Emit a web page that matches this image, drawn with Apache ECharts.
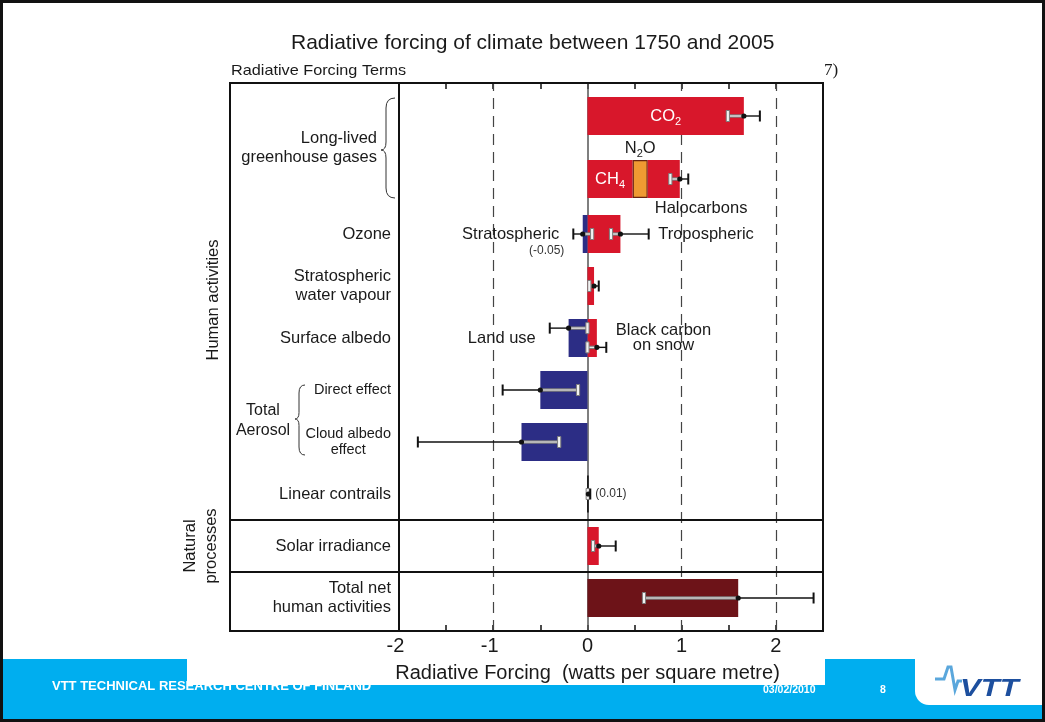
<!DOCTYPE html>
<html>
<head>
<meta charset="utf-8">
<script src="https://cdn.jsdelivr.net/npm/echarts@6/dist/echarts.min.js"></script>
<style>
  html, body { margin: 0; padding: 0; background: #fff; }
  #c { width: 1045px; height: 722px; }
</style>
</head>
<body>
<div id="c"></div>
<script>
// Radiative forcing of climate between 1750 and 2005 (W m-2)
const terms = ['CO2', 'CH4 + N2O + Halocarbons', 'Ozone', 'Stratospheric\nwater vapour', 'Surface albedo',
  'Direct effect', 'Cloud albedo\neffect', 'Linear contrails', 'Solar irradiance', 'Total net\nhuman activities'];
const ghgParts = ['CH4', 'N2O', 'Halocarbons'];

// stacked bar components, one value per row
const warming     = [1.66, 0.48, 0.35, 0.07, 0.10, null, null, 0.01, 0.12, null];
const n2o         = [null, 0.16, null, null, null, null, null, null, null, null];
const halocarbons = [null, 0.34, null, null, null, null, null, null, null, null];
const cooling     = [null, null, -0.05, null, -0.20, -0.50, -0.70, null, null, null];
const totalNet    = [null, null, null, null, null, null, null, null, null, 1.60];

// uncertainty ranges
const errNames = ['CO2', 'CH4 + N2O + Halocarbons', 'Stratospheric ozone', 'Tropospheric ozone',
  'Stratospheric water vapour', 'Land use', 'Black carbon on snow', 'Direct effect',
  'Cloud albedo effect', 'Linear contrails', 'Solar irradiance', 'Total net human activities'];
const errRow  = [0, 1, 2, 2, 3, 4, 4, 5, 6, 7, 8, 9];
const errBest = [1.66, 0.98, -0.05, 0.35, 0.07, -0.20, 0.10, -0.50, -0.70, 0.01, 0.12, 1.60];
const errLow  = [1.49, 0.88, -0.15, 0.25, 0.02, -0.40, 0.00, -0.90, -1.80, 0.003, 0.06, 0.60];
const errHigh = [1.83, 1.07, 0.05, 0.65, 0.12, 0.00, 0.20, -0.10, -0.30, 0.03, 0.30, 2.40];

const xTickLabels = [-2, -1, 0, 1, 2];
const xMin = -2, xMax = 2.5;

// ---- styling and layout ----
const FONT = '"Liberation Sans", Arial, Helvetica, sans-serif';
const INK = '#1a1a1a';
const RED = '#d8172b', BLUE = '#2c2d85', ORANGE = '#ef9a32', MAROON = '#6d1318';
const PLOT_LEFT = 399, PLOT_WIDTH = 424;
const FRAME = { x: 230, y: 83, w: 593, h: 548 };
const GHG = { top: 84.5, row: 63 };   // long-lived greenhouse gas block
const REST = { top: 208, row: 52 };   // all other forcing terms
const SPLIT = 2;                      // rows in the greenhouse gas block
const BAR_W = 38;

const sideNotes = {
  'Stratospheric ozone': 'Stratospheric',
  'Tropospheric ozone': 'Tropospheric',
  'Land use': 'Land use',
  'Black carbon on snow': 'Black carbon\non snow'
};
const valueNotes = { 'Stratospheric ozone': 'below', 'Linear contrails': 'beside' };
const laneShift = { 'Land use': -0.19, 'Black carbon on snow': 0.18 };

const measure = document.createElement('canvas').getContext('2d');
function textWidth(s, size) {
  measure.font = size + 'px ' + FONT;
  return Math.max.apply(null, s.split('\n').map(l => measure.measureText(l).width));
}
function chem(s, big, small) {
  return s.replace(/([A-Za-z]+)|(\d+)/g, (m, a, d) => a ? '{' + big + '|' + a + '}' : '{' + small + '|' + d + '}');
}
function fmtValue(v) { return '(' + v.toFixed(2) + ')'; }

function renderError(params, api) {
  const row = api.value(0), lo = api.value(1), best = api.value(2), hi = api.value(3);
  const name = errNames[api.value(4)];
  const band = api.size([0, 1])[1];
  const c = api.coord([best, row]);
  const y = c[1] + (laneShift[name] || 0) * band;
  const xb = c[0], xl = api.coord([lo, row])[0], xh = api.coord([hi, row])[0];
  const up = best >= 0;
  const inA = up ? xl : xb, inB = up ? xb : xh;
  const outA = up ? xb : xl, outB = up ? xh : xb;
  const capIn = up ? xl : xh, capOut = up ? xh : xl;
  const cap = 5.5;
  const kids = [
    { type: 'line', shape: { x1: inA, y1: y, x2: inB, y2: y }, style: { stroke: '#7c7c7c', lineWidth: 3.4 } },
    { type: 'line', shape: { x1: inA, y1: y, x2: inB, y2: y }, style: { stroke: '#f2f2f2', lineWidth: 1.2 } },
    { type: 'rect', shape: { x: capIn - 1.6, y: y - cap, width: 3.2, height: cap * 2 },
      style: { fill: '#f2f2f2', stroke: '#7c7c7c', lineWidth: 1 } },
    { type: 'line', shape: { x1: outA, y1: y, x2: outB, y2: y }, style: { stroke: '#111', lineWidth: 1.4 } },
    { type: 'line', shape: { x1: capOut, y1: y - cap, x2: capOut, y2: y + cap }, style: { stroke: '#111', lineWidth: 2 } },
    { type: 'circle', shape: { cx: xb, cy: y, r: 2.6 }, style: { fill: '#111' } }
  ];
  const note = sideNotes[name];
  if (note) {
    const w = textWidth(note, 16.5);
    const x = up ? xh + 9.5 + w / 2 : xl - 14 - w / 2;
    kids.push({ type: 'text', x: x, y: c[1],
      style: { text: note, fill: INK, font: '16.5px ' + FONT, lineHeight: 15,
        align: 'center', textAlign: 'center', verticalAlign: 'middle', textVerticalAlign: 'middle' } });
  }
  const vn = valueNotes[name];
  if (vn) {
    const below = vn === 'below';
    kids.push({ type: 'text', x: below ? xl - 9 : xh + 5, y: c[1] + (below ? 17 : 0),
      style: { text: fmtValue(best), fill: '#333', font: '12px ' + FONT,
        align: below ? 'right' : 'left', textAlign: below ? 'right' : 'left',
        verticalAlign: 'middle', textVerticalAlign: 'middle' } });
  }
  return { type: 'group', children: kids };
}

function errData(from, to) {
  return errRow.map((r, i) => [r, i]).filter(d => d[0] >= from && d[0] < to)
    .map(d => [d[0] - from, errLow[d[1]], errBest[d[1]], errHigh[d[1]], d[1]]);
}
function barData(arr, from, to) {
  return arr.slice(from, to).map(v => (v !== null && Math.abs(v) < 0.02)
    ? { value: v, itemStyle: { borderColor: '#111', borderWidth: 1.6 } } : v);
}

const richSub = {
  w: { color: '#fff', fontSize: 16.5, fontFamily: FONT, lineHeight: 22 },
  ws: { color: '#fff', fontSize: 11, fontFamily: FONT, lineHeight: 11, verticalAlign: 'bottom' },
  k: { color: INK, fontSize: 16.5, fontFamily: FONT, lineHeight: 22 },
  ks: { color: INK, fontSize: 11, fontFamily: FONT, lineHeight: 11, verticalAlign: 'bottom' }
};

const smallTerms = new Set(['Direct effect', 'Cloud albedo\neffect']);

const hiddenX = idx => ({ gridIndex: idx, type: 'value', min: xMin, max: xMax, show: false });

const option = {
  animation: false,
  backgroundColor: '#fff',
  textStyle: { fontFamily: FONT },
  title: {
    text: 'Radiative forcing of climate between 1750 and 2005',
    left: 291, top: 33, padding: 0,
    textStyle: { fontSize: 21, fontWeight: 'normal', color: INK, fontFamily: FONT }
  },
  grid: [
    { left: PLOT_LEFT, width: PLOT_WIDTH, top: GHG.top, height: GHG.row * SPLIT, outerBoundsMode: 'none' },
    { left: PLOT_LEFT, width: PLOT_WIDTH, top: REST.top, height: REST.row * (terms.length - SPLIT), outerBoundsMode: 'none' },
    { left: PLOT_LEFT, width: PLOT_WIDTH, top: FRAME.y, height: FRAME.h, outerBoundsMode: 'none' }
  ],
  xAxis: [
    hiddenX(0),
    hiddenX(1),
    {
      gridIndex: 2, type: 'value', min: xMin, max: xMax, interval: 0.5, position: 'bottom',
      axisLine: { show: true, onZero: false, lineStyle: { color: '#111', width: 2 } },
      axisTick: { show: true, inside: true, length: 6, lineStyle: { color: '#111', width: 1.5 } },
      splitLine: { show: false },
      axisLabel: {
        margin: 5, color: INK, fontSize: 20,
        formatter: v => xTickLabels.includes(v) ? (v < 0 ? '{n|' + v + '}{p|}' : '{n|' + v + '}') : '',
        rich: { n: { fontSize: 20, color: INK, fontFamily: FONT }, p: { width: 7 } }
      }
    },
    {
      gridIndex: 2, type: 'value', min: xMin, max: xMax, interval: 0.5, position: 'top',
      axisLine: { show: true, onZero: false, lineStyle: { color: '#111', width: 2 } },
      axisTick: { show: true, inside: true, length: 6, lineStyle: { color: '#111', width: 1.5 } },
      splitLine: { show: false },
      axisLabel: { show: false }
    }
  ],
  yAxis: [
    { gridIndex: 0, type: 'category', inverse: true, data: terms.slice(0, SPLIT),
      axisLine: { show: false }, axisTick: { show: false }, axisLabel: { show: false } },
    { gridIndex: 1, type: 'category', inverse: true, data: terms.slice(SPLIT),
      axisLine: { show: false }, axisTick: { show: false }, splitLine: { show: false },
      axisLabel: {
        interval: 0, margin: 8, color: INK, fontSize: 16.5, lineHeight: 19, fontFamily: FONT,
        formatter: v => smallTerms.has(v)
          ? v.split('\n').map((l, i) => '{' + (i ? 'sc' : 'sm') + '|' + l + '}').join('\n') : v,
        rich: {
          sm: { fontSize: 14.5, lineHeight: 16, color: INK, fontFamily: FONT },
          sc: { fontSize: 14.5, lineHeight: 16, color: INK, fontFamily: FONT, align: 'center' }
        }
      } },
    { gridIndex: 2, type: 'value', min: 0, max: 1, show: false }
  ],
  series: [
    {
      // reference lines of the value axis, kept behind the bars
      type: 'line', xAxisIndex: 2, yAxisIndex: 2, data: [], silent: true, z: 1,
      markLine: {
        z: 1, symbol: 'none', silent: true, label: { show: false },
        data: [
          { xAxis: -1, lineStyle: { color: '#444', width: 1.2, type: [11, 7] } },
          { xAxis: 1, lineStyle: { color: '#444', width: 1.2, type: [11, 7] } },
          { xAxis: 2, lineStyle: { color: '#444', width: 1.2, type: [11, 7] } },
          { xAxis: -2, lineStyle: { color: '#111', width: 2, type: 'solid' } },
          { xAxis: 0, lineStyle: { color: '#555', width: 1.5, type: 'solid' } }
        ]
      }
    },
    // long-lived greenhouse gases
    {
      type: 'bar', name: 'CO2 / CH4', xAxisIndex: 0, yAxisIndex: 0, stack: 'ghg', barWidth: BAR_W, z: 3,
      data: barData(warming, 0, SPLIT), itemStyle: { color: RED },
      label: { show: true, position: 'inside', rich: richSub,
        formatter: p => chem(p.dataIndex === 0 ? terms[0] : ghgParts[0], 'w', 'ws') }
    },
    {
      type: 'bar', name: 'N2O', xAxisIndex: 0, yAxisIndex: 0, stack: 'ghg', barWidth: BAR_W, z: 3,
      data: barData(n2o, 0, SPLIT), itemStyle: { color: ORANGE, borderColor: '#6a2410', borderWidth: 1.2 },
      label: { show: true, position: 'top', distance: 1, rich: richSub, formatter: () => chem(ghgParts[1], 'k', 'ks') }
    },
    {
      type: 'bar', name: 'Halocarbons', xAxisIndex: 0, yAxisIndex: 0, stack: 'ghg', barWidth: BAR_W, z: 3,
      data: barData(halocarbons, 0, SPLIT), itemStyle: { color: RED },
      label: { show: true, position: ['0%', '100%'], offset: [7, 2], align: 'left', verticalAlign: 'top',
        color: INK, fontSize: 16.5, fontFamily: FONT, formatter: () => ghgParts[2] }
    },
    // other forcing terms
    {
      type: 'bar', name: 'Warming', xAxisIndex: 1, yAxisIndex: 1, stack: 'rest', barWidth: BAR_W, z: 3,
      data: barData(warming, SPLIT), itemStyle: { color: RED }
    },
    {
      type: 'bar', name: 'Cooling', xAxisIndex: 1, yAxisIndex: 1, stack: 'rest', barWidth: BAR_W, z: 3,
      data: barData(cooling, SPLIT), itemStyle: { color: BLUE }
    },
    {
      type: 'bar', name: 'Total net', xAxisIndex: 1, yAxisIndex: 1, stack: 'rest', barWidth: BAR_W, z: 3,
      data: barData(totalNet, SPLIT), itemStyle: { color: MAROON }
    },
    // uncertainty bars
    {
      type: 'custom', xAxisIndex: 0, yAxisIndex: 0, silent: true, z: 5,
      encode: { x: [1, 2, 3], y: 0 }, data: errData(0, SPLIT), renderItem: renderError
    },
    {
      type: 'custom', xAxisIndex: 1, yAxisIndex: 1, silent: true, z: 5,
      encode: { x: [1, 2, 3], y: 0 }, data: errData(SPLIT, terms.length), renderItem: renderError
    }
  ],
  graphic: { elements: [] }
};

// ---- frame, group labels, braces and slide footer ----
const sepY1 = REST.top + REST.row * 6, sepY2 = REST.top + REST.row * 7;

function txt(x, y, text, size, opts) {
  opts = opts || {};
  const style = Object.assign({ text: text, fill: INK, font: size + 'px ' + FONT,
    align: 'left', textAlign: 'left', verticalAlign: 'middle', textVerticalAlign: 'middle' }, opts.style || {});
  const el = { type: 'text', x: x, y: y, z: 6, style: style };
  ['z', 'rotation', 'scaleX'].forEach(k => { if (opts[k] !== undefined) el[k] = opts[k]; });
  return el;
}
function alignStyle(a) { return { align: a, textAlign: a }; }

// curly brace opening to the right: ends at xEnd, spine at xSpine, tip at xTip
function brace(xEnd, xSpine, xTip, yTop, yMid, yBot, r) {
  const st = { fill: 'none', stroke: '#333', lineWidth: 1 };
  const q = (x1, y1, cx, cy, x2, y2) => ({ type: 'bezierCurve', z: 6,
    shape: { x1: x1, y1: y1, cpx1: cx, cpy1: cy, x2: x2, y2: y2 }, style: st });
  const l = (x1, y1, x2, y2) => ({ type: 'line', z: 6, shape: { x1: x1, y1: y1, x2: x2, y2: y2 }, style: st });
  const t = Math.min(r, (yMid - yTop) / 3);
  return [
    q(xEnd, yTop, xSpine, yTop, xSpine, yTop + t),
    l(xSpine, yTop + t, xSpine, yMid - t * 0.8),
    q(xSpine, yMid - t * 0.8, xSpine, yMid, xTip, yMid),
    q(xTip, yMid, xSpine, yMid, xSpine, yMid + t * 0.8),
    l(xSpine, yMid + t * 0.8, xSpine, yBot - t),
    q(xSpine, yBot - t, xSpine, yBot, xEnd, yBot)
  ];
}

option.graphic.elements = [
  { type: 'rect', z: 6, shape: { x: FRAME.x, y: FRAME.y, width: FRAME.w, height: FRAME.h },
    style: { fill: 'none', stroke: '#111', lineWidth: 2 } },
  { type: 'line', z: 6, shape: { x1: FRAME.x, y1: sepY1, x2: FRAME.x + FRAME.w, y2: sepY1 }, style: { stroke: '#111', lineWidth: 2 } },
  { type: 'line', z: 6, shape: { x1: FRAME.x, y1: sepY2, x2: FRAME.x + FRAME.w, y2: sepY2 }, style: { stroke: '#111', lineWidth: 2 } },

  txt(231, 71, 'Radiative Forcing Terms', 14.5, { scaleX: 1.12 }),
  txt(824, 71, '7)', 17, { style: { font: '17px "Liberation Serif", "Times New Roman", serif' } }),

  txt(377, 148, 'Long-lived\ngreenhouse gases', 16.5, { style: Object.assign({ lineHeight: 19 }, alignStyle('right')) }),
  ...brace(395, 386, 381, 98, 150, 198, 10),
  txt(263, 421, 'Total\nAerosol', 16, { style: Object.assign({ lineHeight: 20 }, alignStyle('center')) }),
  ...brace(305, 299, 295, 385, 419, 455, 8),

  txt(213, 300, 'Human activities', 16.5, { rotation: Math.PI / 2, style: alignStyle('center') }),
  txt(201, 546, 'Natural\nprocesses', 16.5, { rotation: Math.PI / 2, style: Object.assign({ lineHeight: 21 }, alignStyle('center')) }),

  // footer band
  { type: 'rect', z: 0, shape: { x: 3, y: 659, width: 1039, height: 60 }, style: { fill: '#00aeef' } },
  txt(52, 686, 'VTT TECHNICAL RESEARCH CENTRE OF FINLAND', 13,
    { z: 1, style: { fill: '#fff', font: 'bold 13px ' + FONT } }),
  txt(763, 690, '03/02/2010', 10.5, { z: 1, style: { fill: '#fff', font: 'bold 10.5px ' + FONT } }),
  txt(883, 690, '8', 10.5, { z: 1, style: Object.assign({ fill: '#fff', font: 'bold 10.5px ' + FONT }, alignStyle('center')) }),
  { type: 'rect', z: 2, shape: { x: 187, y: 658, width: 638, height: 27 }, style: { fill: '#fff' } },
  { type: 'rect', z: 1, shape: { x: 915, y: 659, width: 127, height: 46, r: [0, 0, 0, 14] }, style: { fill: '#fff' } },
  { type: 'polyline', z: 2, shape: { points: [[935, 679], [944, 679], [948, 667], [951, 667], [955, 690], [958, 681], [962, 681]] },
    style: { fill: 'none', stroke: '#5aa7dc', lineWidth: 3 } },
  txt(960, 690, 'VTT', 23, { z: 3, scaleX: 1.35, style: { fill: '#1d4f9e', font: 'italic bold 23px ' + FONT } }),

  txt(587.5, 673, 'Radiative Forcing  (watts per square metre)', 20, { z: 4, style: alignStyle('center') }),

  { type: 'rect', z: 20, shape: { x: 1.5, y: 1.5, width: 1042, height: 719 }, style: { fill: 'none', stroke: '#111', lineWidth: 3 } }
];

const chart = echarts.init(document.getElementById('c'));
chart.setOption(option);
</script>
</body>
</html>
